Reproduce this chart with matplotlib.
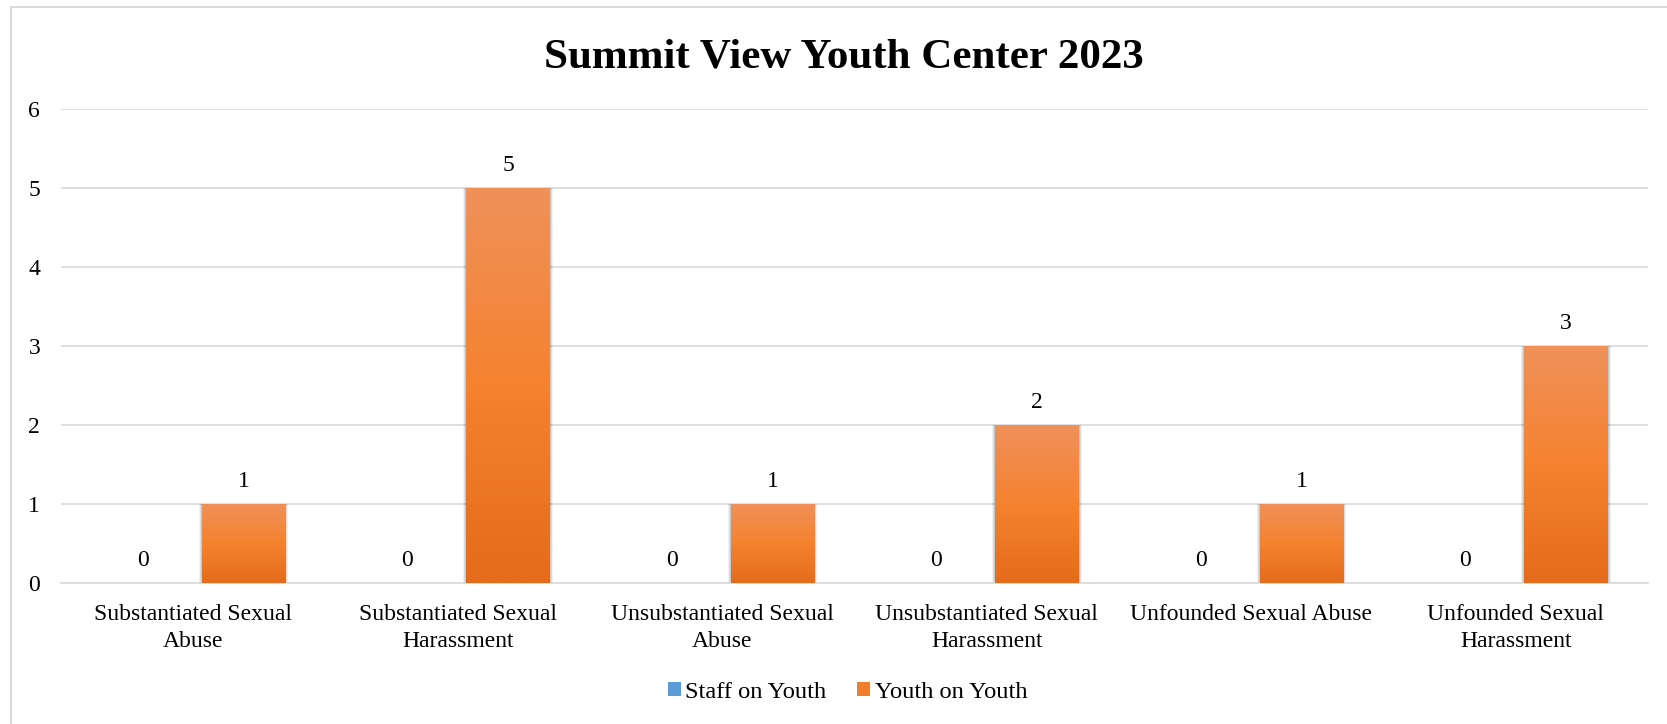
import matplotlib
matplotlib.use("Agg")
import matplotlib.pyplot as plt
import numpy as np
from matplotlib.patches import Rectangle, Patch
from matplotlib.colors import LinearSegmentedColormap

categories = ["Substantiated Sexual\nAbuse", "Substantiated Sexual\nHarassment",
              "Unsubstantiated Sexual\nAbuse", "Unsubstantiated Sexual\nHarassment",
              "Unfounded Sexual Abuse", "Unfounded Sexual\nHarassment"]
staff_on_youth = [0, 0, 0, 0, 0, 0]
youth_on_youth = [1, 5, 1, 2, 1, 3]
series_names = ["Staff on Youth", "Youth on Youth"]
y_ticks = [0, 1, 2, 3, 4, 5, 6]
title = "Summit View Youth Center 2023"

plt.rcParams['font.family'] = ['Liberation Serif', 'DejaVu Serif']

W, H = 1667, 724
fig = plt.figure(figsize=(W / 100, H / 100), dpi=100)
fig.patch.set_facecolor('white')

# outer chart border (extends past the right/bottom edge like the reference)
fig.patches.append(Rectangle((11 / W, -0.1), 2.0, 1 - 7 / H + 0.1, transform=fig.transFigure,
                             fill=False, edgecolor='#D9D9D9', linewidth=1.4, zorder=0))

ax = fig.add_axes([61 / W, 1 - 583 / H, (1648 - 61) / W, (583 - 109) / H])
x = np.arange(len(categories))
bw = 0.314
off = 0.19

orange_cmap = LinearSegmentedColormap.from_list('o', ['#F0915A', '#F5822F', '#E46C1A'])
blue_cmap = LinearSegmentedColormap.from_list('b', ['#7AAEE0', '#5B9BD5', '#3F82C4'])

for i, (vals, cmap, dx) in enumerate([(staff_on_youth, blue_cmap, -off), (youth_on_youth, orange_cmap, off)]):
    # soft shadow
    for k, a in [(0.012, 0.06), (0.008, 0.08), (0.004, 0.10)]:
        ax.bar(x + dx, vals, width=bw + 2 * k, color='black', alpha=a, linewidth=0, zorder=2)
    bars = ax.bar(x + dx, vals, width=bw, color=cmap(0.5), linewidth=0, zorder=3)
    grad = np.linspace(0, 1, 256).reshape(-1, 1)
    for b in bars:
        bx, by, bwid, bh = b.get_x(), b.get_y(), b.get_width(), b.get_height()
        if bh <= 0:
            continue
        im = ax.imshow(grad, cmap=cmap, extent=[bx, bx + bwid, by, by + bh], aspect='auto',
                       origin='upper', zorder=4, interpolation='bilinear')
        im.set_clip_path(b)
    for xi, v in zip(x + dx, vals):
        ax.annotate(str(v), (xi, v), xytext=(0, 12.2), textcoords='offset points',
                    ha='center', va='baseline', fontsize=17, color='black', zorder=5)

ax.set_xlim(-0.5, len(categories) - 0.5)
ax.set_ylim(0, 6)
ax.set_yticks(y_ticks)
ax.set_yticklabels([str(t) for t in y_ticks])
ax.set_xticks(x)
ax.set_xticklabels(categories, fontsize=17, linespacing=1.37, va='top')
ax.tick_params(axis='y', length=0, pad=15, labelsize=17)
ax.tick_params(axis='x', length=0, pad=15)
ax.grid(axis='y', color='#D9D9D9', linewidth=1.2, zorder=0)
ax.set_axisbelow(True)
for s in ['top', 'right', 'left']:
    ax.spines[s].set_visible(False)
ax.spines['bottom'].set_color('#D9D9D9')
ax.spines['bottom'].set_linewidth(1.2)

fig.text(844 / W, 1 - 68 / H, title, ha='center', va='baseline', fontsize=31,
         fontweight='bold', color='black')

handles = [Patch(facecolor='#5B9BD5', edgecolor='none'), Patch(facecolor='#F07F2D', edgecolor='none')]
fig.legend(handles, series_names, loc='center', bbox_to_anchor=(847.5 / W, 1 - 692 / H),
           ncol=2, frameon=False, fontsize=17.6, handlelength=0.53, handleheight=0.53,
           handletextpad=0.2, columnspacing=1.25, borderpad=0)

fig.savefig('out.png', dpi=100, facecolor='white')
